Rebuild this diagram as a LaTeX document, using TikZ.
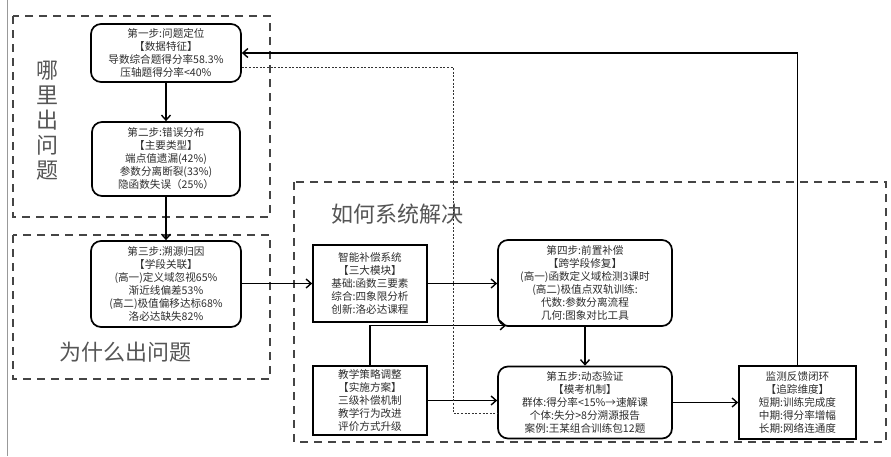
\documentclass[tikz,border=0pt]{standalone}
\usepackage{fontspec}
\setmainfont{Noto Sans CJK SC}
\usetikzlibrary{arrows.meta,calc}
\definecolor{txt}{HTML}{2E2E2E}
\definecolor{lbl}{HTML}{555555}
\definecolor{frm}{HTML}{454545}
\begin{document}
\begin{tikzpicture}[x=1pt,y=-1pt,
  box/.style={draw=black,line width=1.7pt,align=center,inner sep=0pt,
    font=\fontsize{10.6}{13}\selectfont,text=txt},
  rbox/.style={box,rounded corners=10pt},
  sbox/.style={box},
  frame/.style={draw=frm,line width=2.8pt,dash pattern=on 8pt off 6pt},
  big/.style={font=\fontsize{22}{25}\selectfont,text=lbl,align=center,inner sep=0pt},
  conn/.style={line width=1.4pt,-{Straight Barb[length=5pt,width=9pt,line width=1.4pt]}},
  dots/.style={line width=0.9pt,dash pattern=on 2pt off 1.6pt,draw=black!80}]
\useasboundingbox (0,0) rectangle (891,456);
\fill[white] (0,0) rectangle (891,456);
\draw[black!40,line width=1pt] (7,0) -- (7,456);

% frames
\draw[frame] (13,16) rectangle (270,217);
\draw[frame] (13,235) rectangle (270,379);
\draw[frame] (294,182) rectangle (886,442);

% labels
\node[big] (lab1) at (47,121) {哪\\里\\出\\问\\题};
\node[big] (lab2) at (125,352) {为什么出问题};
\node[big] (lab3) at (397,214) {如何系统解决};

% boxes
\node[rbox,minimum width=150pt,minimum height=58pt] (s1) at (166,53)
  {第一步:问题定位\\【数据特征】\\导数综合题得分率58.3\%\\压轴题得分率<40\%};
\node[rbox,minimum width=148pt,minimum height=74pt] (s2) at (166,159)
  {第二步:错误分布\\【主要类型】\\端点值遗漏(42\%)\\参数分离断裂(33\%)\\隐函数失误（25\%）};
\node[rbox,minimum width=150pt,minimum height=86pt] (s3) at (166,284)
  {第三步:溯源归因\\【学段关联】\\(高一)定义域忽视65\%\\渐近线偏差53\%\\(高二)极值偏移达标68\%\\洛必达缺失82\%};
\node[sbox,minimum width=114pt,minimum height=77pt] (sys) at (370,283.5)
  {智能补偿系统\\【三大模块】\\基础:函数三要素\\综合:四象限分析\\创新:洛必达课程};
\node[rbox,minimum width=174pt,minimum height=86pt] (s4) at (585,283)
  {第四步:前置补偿\\【跨学段修复】\\(高一)函数定义域检测3课时\\(高二)极值点双轨训练:\\代数:参数分离流程\\几何:图象对比工具};
\node[sbox,minimum width=114pt,minimum height=69pt] (strat) at (370,400.5)
  {教学策略调整\\【实施方案】\\三级补偿机制\\教学行为改进\\评价方式升级};
\node[rbox,minimum width=174pt,minimum height=72pt] (s5) at (585,402.5)
  {第五步:动态验证\\【模考机制】\\群体:得分率<15\%→速解课\\个体:失分>8分溯源报告\\案例:王某组合训练包12题};
\node[sbox,minimum width=117pt,minimum height=73pt] (mon) at (797.5,402.5)
  {监测反馈闭环\\【追踪维度】\\短期:训练完成度\\中期:得分率增幅\\长期:网络连通度};

% connectors
\draw[conn] (s1) -- (s2);
\draw[conn] (s2) -- (s3);
\draw[conn] (s3.east |- sys.west) -- (sys.west);
\draw[conn] (sys.east) -- (sys.east -| s4.west);
\draw[conn] (s4) -- (s5);
\draw[conn] (strat.north) |- ([xshift=9pt,yshift=1.5pt]s4.south west);
\draw[conn] (strat.east) -- (strat.east -| s5.west);
\draw[conn] (s5.east) -- (mon.west);
\draw[conn] (mon.north) |- (s1.east);
\coordinate (dv) at (453,413);
\draw[dots] ([yshift=-14pt]s1.east) -| (dv) -- (dv -| s5.west);
\end{tikzpicture}
\end{document}
